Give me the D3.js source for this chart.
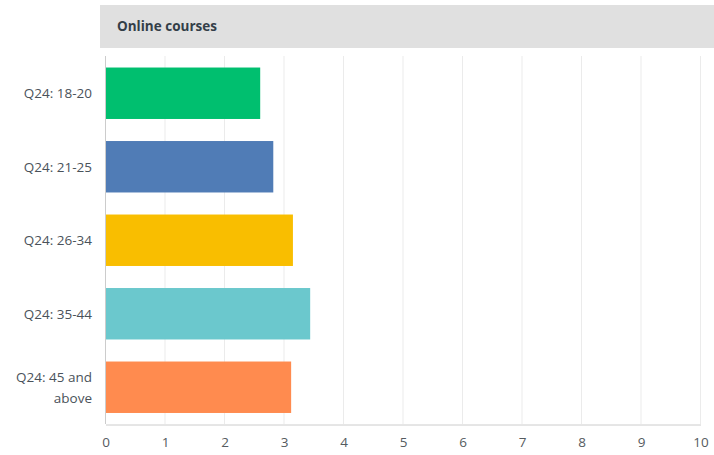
<!DOCTYPE html>
<html>
<head>
<meta charset="utf-8">
<script src="https://cdn.jsdelivr.net/npm/d3@7"></script>
<style>
	html, body { margin: 0; padding: 0; background: #fff; }
	svg { display: block; font-family: "Open Sans", Roboto, sans-serif; }
</style>
</head>
<body>
<div id="chart"></div>
<script>
const title = "Online courses";
const categories = [ "Q24: 18-20", "Q24: 21-25", "Q24: 26-34", "Q24: 35-44", "Q24: 45 and above" ];
const values = [ 2.6, 2.82, 3.15, 3.44, 3.12 ];
const colors = [ "#00bf6f", "#507cb6", "#f9be00", "#6bc8cd", "#ff8b4f" ];
const xTicks = [ 0, 1, 2, 3, 4, 5, 6, 7, 8, 9, 10 ];

let width = 714,
	height = 455,
	svg = d3.select( "#chart" )
		.append( "svg" )
		.attr( "width", width )
		.attr( "height", height );

// 图表区域
let x = d3.scaleLinear().domain( [ 0, 10 ] ).range( [ 105.5, 700.5 ] ),
	y = d3.scaleBand().domain( categories ).range( [ 56.5, 424 ] )
		.paddingInner( 0.3 ).paddingOuter( 0.15 );

// 标题栏
svg.append( "rect" )
	.attr( "x", 100 ).attr( "y", 5 )
	.attr( "width", width - 100 ).attr( "height", 43 )
	.attr( "fill", "#e0e0e0" );
svg.append( "text" )
	.attr( "x", 117 ).attr( "y", 31 )
	.attr( "font-size", "13.5px" )
	.attr( "font-weight", "bold" )
	.attr( "fill", "#333e48" )
	.text( title );

// 网格线
svg.append( "g" )
	.selectAll( "line" )
	.data( xTicks.slice( 1 ) )
	.join( "line" )
	.attr( "x1", d => x( d ) ).attr( "x2", d => x( d ) )
	.attr( "y1", 56 ).attr( "y2", 424 )
	.attr( "stroke", "#ebebeb" );

// 矩形
svg.append( "g" )
	.selectAll( "rect" )
	.data( values )
	.join( "rect" )
	.attr( "x", x( 0 ) )
	.attr( "y", ( d, i ) => y( categories[ i ] ) )
	.attr( "width", d => x( d ) - x( 0 ) )
	.attr( "height", y.bandwidth() )
	.attr( "fill", ( d, i ) => colors[ i ] );

// x 轴
let xAxis = svg.append( "g" )
	.attr( "transform", "translate(0,424.5)" )
	.call( d3.axisBottom( x ).tickValues( xTicks ).tickSize( 0 ).tickPadding( 13 ) );
xAxis.select( ".domain" ).attr( "stroke", "#cccccc" );
xAxis.selectAll( "text" )
	.attr( "font-size", "13.5px" )
	.attr( "font-family", "\"Open Sans\", sans-serif" )
	.attr( "fill", "#555b60" );

// y 轴线
svg.append( "line" )
	.attr( "x1", 105.5 ).attr( "x2", 105.5 )
	.attr( "y1", 56 ).attr( "y2", 424 )
	.attr( "stroke", "#cccccc" );

// y 轴标签（自动换行）
let labels = svg.append( "g" )
	.selectAll( "text" )
	.data( categories )
	.join( "text" )
	.attr( "text-anchor", "end" )
	.attr( "font-size", "13.5px" )
	.attr( "fill", "#4a525a" );

labels.each( function( d ){
	let t = d3.select( this ),
		cy = y( d ) + y.bandwidth() / 2,
		lines = d.length > 12 ? [ "Q24: 45 and", "above" ] : [ d ];
	lines.forEach( ( line, k ) => {
		t.append( "tspan" )
			.attr( "x", 92 )
			.attr( "y", cy + 5 + ( k - ( lines.length - 1 ) / 2 ) * 21 )
			.text( line );
	} );
} );
</script>
</body>
</html>
